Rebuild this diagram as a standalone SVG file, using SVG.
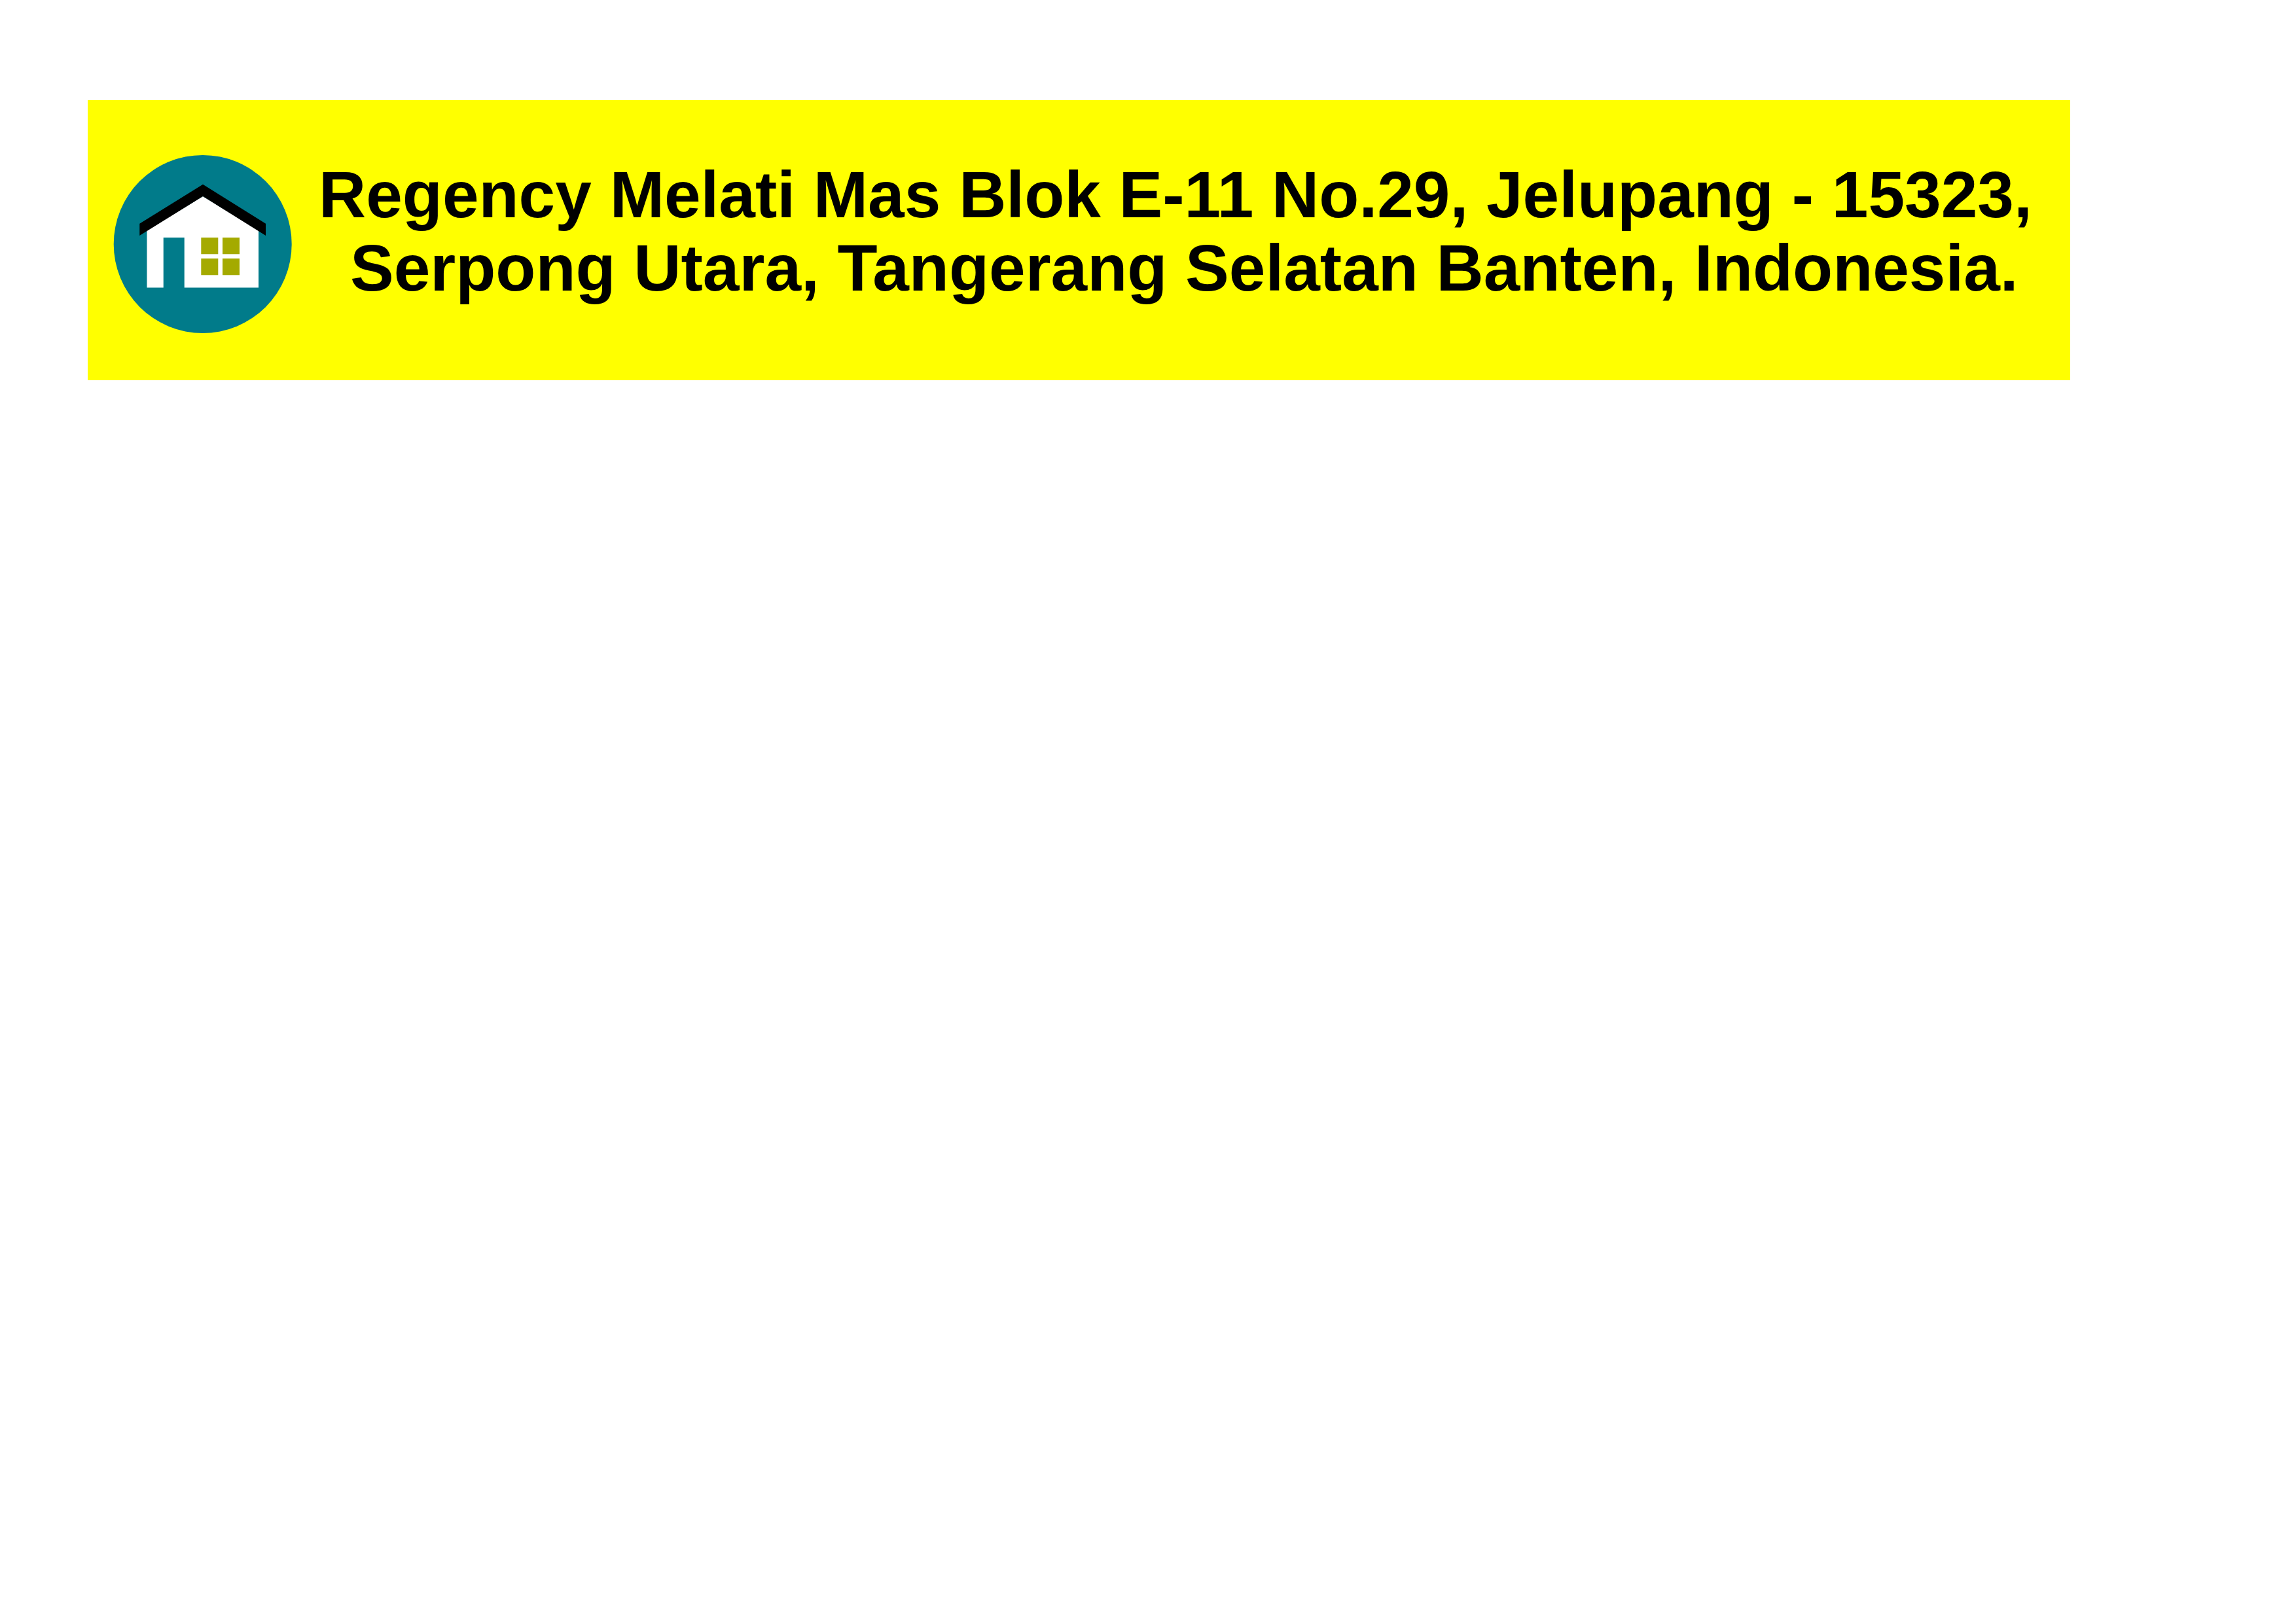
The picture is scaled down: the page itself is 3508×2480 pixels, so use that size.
<svg xmlns="http://www.w3.org/2000/svg" width="3508" height="2480" viewBox="0 0 3508 2480">
<style>.t{font-family:"Liberation Sans",Arial,sans-serif;font-weight:700;font-size:100px;fill:#000}</style>
<rect width="3508" height="2480" fill="#fff"/>
<g id="banner"><rect x="134" y="153" width="3029" height="428" fill="#ff0"/></g>
<g id="icon">
<circle cx="309.7" cy="373" r="136" fill="#017b8a"/>
<polygon points="224.5,352 310,300 395,352 395,439.5 281.7,439.5 281.7,363 249.7,363 249.7,439.5 224.5,439.5" fill="#fff"/>
<polygon points="213.3,360 213.3,341.7 310,281.7 406,341.7 406,360 310,300" fill="#000"/>
<g fill="#a4aa00"><rect x="307.3" y="363" width="26" height="25.3"/><rect x="340" y="363" width="26" height="25.3"/><rect x="307.3" y="395" width="26" height="25.3"/><rect x="340" y="395" width="26" height="25.3"/></g>
</g>
<g id="address">
<text class="t" x="487" y="332">Regency Melati Mas Blok E-11 No.29, Jelupang - 15323,</text>
<text class="t" x="535" y="444">Serpong Utara, Tangerang Selatan Banten, Indonesia.</text>
</g>
</svg>
